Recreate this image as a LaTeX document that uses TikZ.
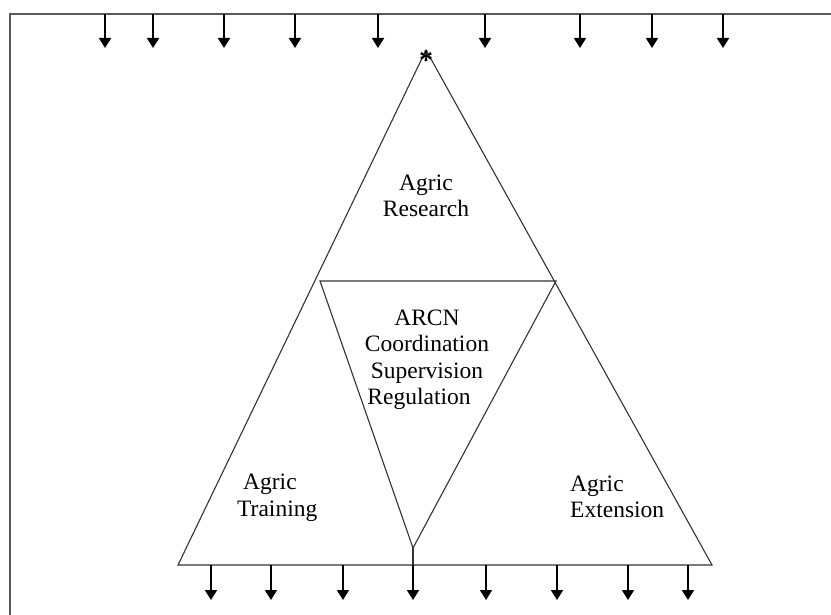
\documentclass[tikz,border=0pt]{standalone}
\usepackage{fontspec}
\setmainfont{Liberation Serif}
\usetikzlibrary{arrows.meta}
\begin{document}
\begin{tikzpicture}[x=1pt,y=-1pt,
  frame/.style={draw=black!65,line width=1.4pt},
  tri/.style={draw=black!80,line width=1.1pt,line join=miter},
  flow/.style={draw=black,line width=1.8pt,-{Triangle[width=12pt,length=10pt]}},
  lbl/.style={font=\fontsize{23.5}{26.5}\selectfont,inner sep=0pt}]
\useasboundingbox (0,0) rectangle (831,615);
\fill[white] (0,0) rectangle (831,615);
% frame
\draw[frame] (10,620) -- (10,14) -- (840,14);
% outer triangle
\coordinate (apex) at (426,50);
\coordinate (bl) at (178,565);
\coordinate (br) at (712,565);
\draw[tri] (apex) -- (bl) -- (br) -- cycle;
% inner triangle
\coordinate (il) at (320,281);
\coordinate (ir) at (556,281);
\coordinate (ib) at (413,548);
\draw[tri] (il) -- (ir) -- (ib) -- cycle;
\draw[tri] (ib) -- (413,565);
% asterisk
\node[inner sep=0pt,font=\fontsize{28}{28}\selectfont\bfseries] (star) at (426,60) {*};
% top arrows
\foreach \x [count=\i] in {105,153,224,295,378,485,580,652,723}{
  \coordinate (t\i) at (\x,14);
  \coordinate (tt\i) at (\x,48);
  \draw[flow] (t\i) -- (tt\i);
}
% bottom arrows
\foreach \x [count=\i] in {211,271,343,413,486,557,628,688}{
  \coordinate (b\i) at (\x,565);
  \coordinate (bb\i) at (\x,600);
  \draw[flow] (b\i) -- (bb\i);
}
% labels
\node[lbl,align=center] (research) at (426,196) {Agric\\Research};
\node[lbl,align=center] (arcn) at (427,360) {ARCN\\Coordination\\Supervision\\Regulation\hspace*{16pt}};
\node[lbl,align=left,anchor=west] (training) at (237,498) {\hspace*{6pt}Agric\\Training};
\node[lbl,align=left,anchor=west] (extension) at (570,497) {Agric\\Extension};
\end{tikzpicture}
\end{document}
